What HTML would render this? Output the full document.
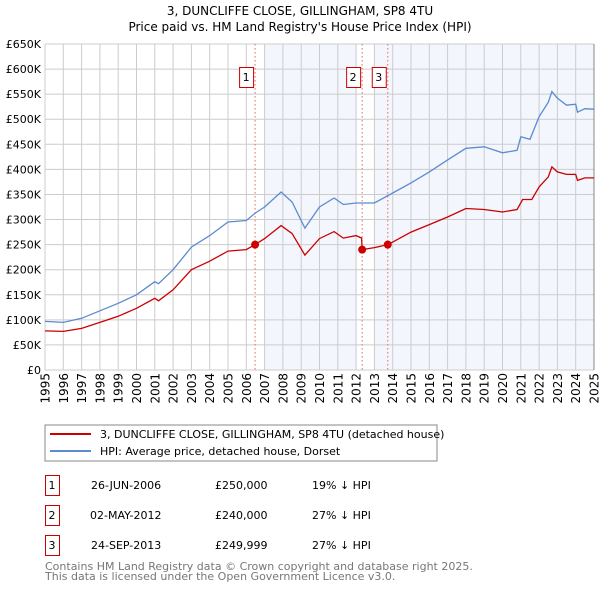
<!DOCTYPE html>
<html><head><meta charset="utf-8"><style>
body{margin:0;background:#fff;font-family:"Liberation Sans","DejaVu Sans",sans-serif;}
svg text{font-family:"DejaVu Sans","Liberation Sans",sans-serif;}
</style></head><body>
<svg id="c" width="600" height="590" xmlns="http://www.w3.org/2000/svg">
<text x="300" y="15" text-anchor="middle" font-size="12" fill="#000">3, DUNCLIFFE CLOSE, GILLINGHAM, SP8 4TU</text>
<text x="300" y="31" text-anchor="middle" font-size="12" fill="#000">Price paid vs. HM Land Registry's House Price Index (HPI)</text>
<g id="plot"></g>
<g>
<rect x="45" y="425" width="392" height="36" fill="#fff" stroke="#888"/>
<line x1="50" y1="434" x2="91" y2="434" stroke="#cc0000" stroke-width="2"/>
<text x="100" y="438" font-size="11">3, DUNCLIFFE CLOSE, GILLINGHAM, SP8 4TU (detached house)</text>
<line x1="50" y1="451" x2="91" y2="451" stroke="#5b8bd0" stroke-width="2"/>
<text x="100" y="455" font-size="11">HPI: Average price, detached house, Dorset</text>
</g>
<g font-size="11">
<rect x="45.5" y="475.5" width="14" height="20" fill="none" stroke="#cc0000"/><text x="52" y="489" text-anchor="middle">1</text>
<text x="91" y="489">26-JUN-2006</text><text x="215" y="489">£250,000</text><text x="312" y="489">19% ↓ HPI</text>
<rect x="45.5" y="505.5" width="14" height="20" fill="none" stroke="#cc0000"/><text x="52" y="519" text-anchor="middle">2</text>
<text x="90" y="519">02-MAY-2012</text><text x="215" y="519">£240,000</text><text x="312" y="519">27% ↓ HPI</text>
<rect x="45.5" y="535.5" width="14" height="20" fill="none" stroke="#cc0000"/><text x="52" y="549" text-anchor="middle">3</text>
<text x="91" y="549">24-SEP-2013</text><text x="215" y="549">£249,999</text><text x="312" y="549">27% ↓ HPI</text>
</g>
<text x="45" y="570" font-size="11" fill="#777">Contains HM Land Registry data © Crown copyright and database right 2025.</text>
<text x="45" y="580" font-size="11" fill="#777">This data is licensed under the Open Government Licence v3.0.</text>
</svg>
<script>
const yTicks=[0,50,100,150,200,250,300,350,400,450,500,550,600,650];
const yTickLabels=["£0","£50K","£100K","£150K","£200K","£250K","£300K","£350K","£400K","£450K","£500K","£550K","£600K","£650K"];
const xYears=[1995,1996,1997,1998,1999,2000,2001,2002,2003,2004,2005,2006,2007,2008,2009,2010,2011,2012,2013,2014,2015,2016,2017,2018,2019,2020,2021,2022,2023,2024,2025];
const hpiT=[1995,1996,1997,1998,1999,2000,2001,2001.2,2002,2003,2004,2005,2006,2006.5,2007,2007.9,2008.5,2009.2,2010,2010.8,2011.3,2012,2013,2014,2015,2016,2017,2018,2019,2020,2020.8,2021,2021.5,2022,2022.5,2022.7,2023,2023.5,2024,2024.1,2024.5,2025];
const hpiV=[97,95,103,118,133,150,176,172,200,245,268,295,298,313,325,355,335,283,325,343,330,333,333,353,373,395,419,442,445,433,438,465,460,505,534,555,542,528,530,514,521,520];
const redT=[1995,1996,1997,1998,1999,2000,2001,2001.2,2002,2003,2004,2005,2006,2006.48,2007,2007.9,2008.5,2009.2,2010,2010.8,2011.3,2012,2012.3,2012.33,2013,2013.73,2014,2015,2016,2017,2018,2019,2020,2020.8,2021.1,2021.6,2022,2022.5,2022.7,2023,2023.5,2024,2024.1,2024.5,2025];
const redV=[78,77,83,95,107,123,143,138,160,200,217,237,240,250,262,288,272,229,262,276,263,268,263,240,244,250,255,275,290,305,322,320,315,320,340,340,365,385,405,395,390,390,378,383,383];
const saleT=[2006.48,2012.33,2013.73];
const saleV=[250,240,250];
const saleLabels=["1","2","3"];
const NS="http://www.w3.org/2000/svg";
const L=45,R=594,T=44,B=370;
const x=t=>L+(t-1995)*(R-L)/30;
const y=v=>B-v*(B-T)/650;
const g=document.getElementById('plot');
function mk(tag,a){const e=document.createElementNS(NS,tag);for(const k in a)e.setAttribute(k,a[k]);g.appendChild(e);return e;}
let e;
e=mk('rect',{x:x(2007),y:T,width:x(2012)-x(2007),height:B-T,fill:'#f3f6fd'});


e=mk('rect',{x:x(2013),y:T,width:R-x(2013),height:B-T,fill:'#f3f6fd'});


yTicks.forEach((v,i)=>{
 e=mk('line',{x1:L,x2:R,y1:y(v),y2:y(v),stroke:'#ccc','stroke-width':1});
 
 
 e=mk('text',{x:L-4,y:y(v)+4,'text-anchor':'end','font-size':11});
 e.textContent=yTickLabels[i];
 
 
});
xYears.forEach(t=>{
 e=mk('line',{x1:x(t),x2:x(t),y1:T,y2:B,stroke:'#ccc','stroke-width':1});
 
 
 e=mk('text',{x:0,y:0,'text-anchor':'end','font-size':12,transform:`translate(${x(t)+4.5},${B+3}) rotate(-90)`});
 e.textContent=t;
 
 
});
e=mk('line',{x1:R,x2:R,y1:T,y2:B,stroke:'#888','stroke-width':1});


saleT.forEach((t,i)=>{
 e=mk('line',{x1:x(t),x2:x(t),y1:T,y2:B,stroke:'#ee6666','stroke-width':1,'stroke-dasharray':'1.5,2.5'});
 
 
 e=mk('rect',{x:x(t)-16+0.5,y:67.5,width:14,height:20,fill:'#fff',stroke:'#cc0000'});
 
 
 e=mk('text',{x:x(t)-9,y:81,'text-anchor':'middle','font-size':11});
 e.textContent=saleLabels[i];
 
 
});
function pts(ts,vs){return ts.map((t,i)=>x(t).toFixed(1)+','+y(vs[i]).toFixed(1)).join(' ');}
e=mk('polyline',{points:pts(hpiT,hpiV),fill:'none',stroke:'#5b8bd0','stroke-width':1.3});


e=mk('polyline',{points:pts(redT,redV),fill:'none',stroke:'#cc0000','stroke-width':1.3});


saleT.forEach((t,i)=>{
 e=mk('circle',{cx:x(t),cy:y(saleV[i]),r:4,fill:'#cc0000'});
 
 
});
</script>
</body></html>
